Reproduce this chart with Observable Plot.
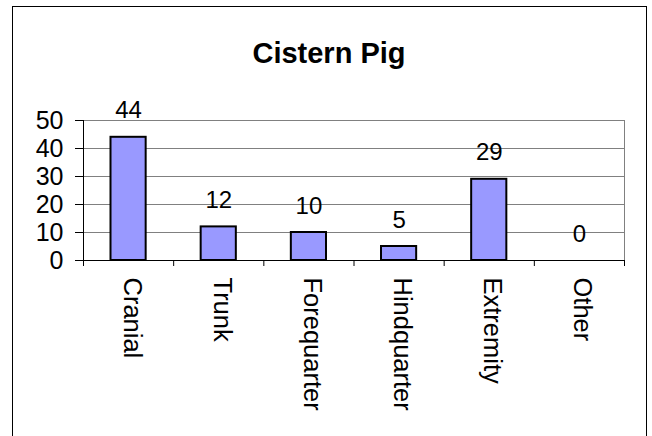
<!DOCTYPE html>
<html>
<head>
<meta charset="utf-8">
<script src="https://cdn.jsdelivr.net/npm/d3@7"></script>
<script src="https://cdn.jsdelivr.net/npm/@observablehq/plot@0.6"></script>
<style>
  html, body { margin: 0; padding: 0; background: white; }
  #wrap { position: relative; width: 652px; height: 436px; overflow: hidden; background: white; }
  #border { position: absolute; left: 12px; top: 6px; width: 633px; height: 460px; border: 1px solid black; pointer-events: none; }
</style>
</head>
<body>
<div id="wrap"><div id="border"></div></div>
<script>
const title = "Cistern Pig";
const categories = ["Cranial", "Trunk", "Forequarter", "Hindquarter", "Extremity", "Other"];
const values = [44, 12, 10, 5, 29, 0];
const yTicks = [0, 10, 20, 30, 40, 50];
const gridValues = [10, 20, 30, 40];

const rows = categories.map((c, i) => ({category: c, index: i, value: values[i]}));
const font = "'Liberation Sans', Arial, sans-serif";

const chart = Plot.plot({
  width: 652,
  height: 436,
  marginLeft: 83,
  marginRight: 28,
  marginTop: 120,
  marginBottom: 176,
  style: {fontFamily: font, fontSize: "24px", color: "black", background: "transparent", overflow: "visible"},
  x: {type: "linear", domain: [0, categories.length], axis: null},
  y: {domain: [0, 50], axis: null},
  marks: [
    Plot.ruleY(gridValues, {stroke: "#808080", strokeWidth: 1}),
    Plot.ruleY([50], {stroke: "#808080", strokeWidth: 1}),
    Plot.ruleX([categories.length], {stroke: "#808080", strokeWidth: 1}),
    Plot.rectY(rows.filter(d => d.value > 0), {
      x1: d => d.index, x2: d => d.index + 1, y1: 0, y2: "value",
      insetLeft: 27.5, insetRight: 27.5,
      fill: "#9999FF", stroke: "black", strokeWidth: 2
    }),
    Plot.ruleX([0], {stroke: "black", strokeWidth: 1}),
    Plot.ruleY([0], {stroke: "black", strokeWidth: 1}),
    Plot.axisY({ticks: yTicks, tickSize: 8, tickPadding: 12, fontSize: 25, label: null, stroke: "black"}),
    Plot.axisX({ticks: d3.range(categories.length + 1), tickSize: 6, tickFormat: () => "", label: null, stroke: "black"}),
    Plot.text(rows, {
      x: d => d.index + 0.5, y: "value", text: d => String(d.value),
      dy: -26.5, fontSize: 24, fill: "black"
    }),
    Plot.text(rows, {
      x: d => d.index + 0.5, text: "category", frameAnchor: "bottom",
      rotate: 90, textAnchor: "start", dy: 17, dx: -5, fontSize: 25.5, fill: "black"
    }),
    Plot.text([title], {
      text: d => d, frameAnchor: "top", dy: -78, dx: -25,
      fontSize: 29, fontWeight: "bold", fill: "black"
    })
  ]
});
document.getElementById("wrap").prepend(chart);
</script>
</body>
</html>
